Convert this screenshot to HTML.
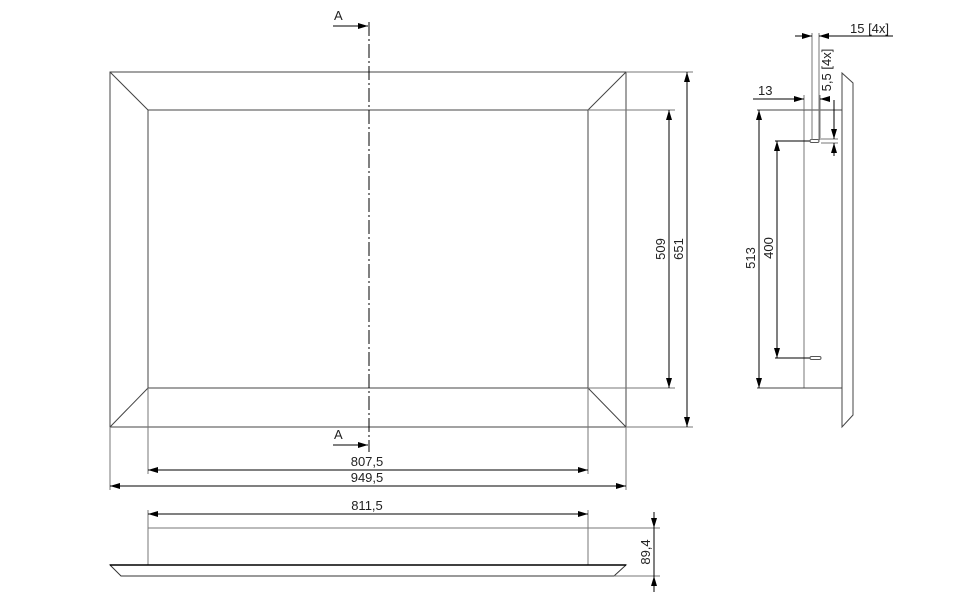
<!DOCTYPE html>
<html><head><style>body{margin:0;background:#fff}svg{display:block}</style></head><body>
<svg width="960" height="600" viewBox="0 0 960 600" xmlns="http://www.w3.org/2000/svg" font-family="Liberation Sans, sans-serif" font-size="11" fill="none" stroke-linecap="butt">
<defs>
<marker id="a" viewBox="0 0 10 6" refX="10" refY="3" markerWidth="10" markerHeight="6" markerUnits="userSpaceOnUse" orient="auto-start-reverse"><path d="M0,0L10,3L0,6z" fill="#000"/></marker>
</defs>
<g stroke="#444" stroke-width="1">
<rect x="110" y="72" width="516" height="355"/>
<rect x="148" y="110" width="440" height="278"/>
<path d="M110,72L148,110M626,72L588,110M110,427L148,388M626,427L588,388"/>
</g>
<path d="M369,22V452" stroke="#000" stroke-width="1" stroke-dasharray="14,3,2,3"/>
<g stroke="#000" stroke-width="1">
<path d="M333,26H368" marker-end="url(#a)"/>
<path d="M333,445H368" marker-end="url(#a)"/>
<path d="M588,110H675M588,388H675M626,72H693M626,427H693" stroke="#777"/>
<path d="M669,110V388" marker-start="url(#a)" marker-end="url(#a)"/>
<path d="M687,72V427" marker-start="url(#a)" marker-end="url(#a)"/>
<path d="M148,388V474M588,388V474M110,427V490M626,427V490" stroke="#777"/>
<path d="M148,470H588" marker-start="url(#a)" marker-end="url(#a)"/>
<path d="M110,486H626" marker-start="url(#a)" marker-end="url(#a)"/>
<path d="M148,510V565M588,510V528" stroke="#777"/>
<path d="M148,514H588" marker-start="url(#a)" marker-end="url(#a)"/>
<path d="M148,528H588V565" stroke="#777"/>
<path d="M110,565H626L614,576H121Z" stroke="#333"/>
<path d="M110,565H626" stroke-width="1.5"/>
<path d="M588,528H660M614,576H660" stroke="#777"/>
<path d="M654,512V528" marker-end="url(#a)"/>
<path d="M654,592V576" marker-end="url(#a)"/>
<path d="M654,528V576"/>
<path d="M842,73L853,83V415L842,427Z" stroke="#444"/>
<path d="M804,110V388" stroke="#777"/>
<path d="M757,110H842M757,388H842" stroke="#444"/>
<path d="M759,110V388" marker-start="url(#a)" marker-end="url(#a)"/>
<path d="M775,141H810M775,358H810"/>
<path d="M777,141V358" marker-start="url(#a)" marker-end="url(#a)"/>
<rect x="810" y="139.5" width="9" height="3" rx="1.5" stroke="#555"/>
<rect x="810" y="356.5" width="11" height="3" rx="1.5" stroke="#555"/>
<path d="M804,95V110M820,95V140M812,33V140M819,33V140" stroke="#777"/>
<path d="M753,99H804" marker-end="url(#a)"/>
<path d="M828,99H820" marker-end="url(#a)"/>
<path d="M795,36H812" marker-end="url(#a)"/>
<path d="M893,36H819" marker-end="url(#a)"/>
<path d="M821,139H838M821,143H838" stroke="#777"/>
<path d="M834,100V139" marker-end="url(#a)"/>
<path d="M834,156V143" marker-end="url(#a)"/>
</g>
<g fill="#222" stroke="none" font-size="13">
<text x="334" y="20">A</text>
<text x="334" y="439">A</text>
<text x="367" y="466" text-anchor="middle">807,5</text>
<text x="367" y="482" text-anchor="middle">949,5</text>
<text x="367" y="510" text-anchor="middle">811,5</text>
<text transform="translate(665,249) rotate(-90)" text-anchor="middle">509</text>
<text transform="translate(683,249) rotate(-90)" text-anchor="middle">651</text>
<text transform="translate(650,552) rotate(-90)" text-anchor="middle">89,4</text>
<text transform="translate(755,258) rotate(-90)" text-anchor="middle">513</text>
<text transform="translate(773,248) rotate(-90)" text-anchor="middle">400</text>
<text x="758" y="95">13</text>
<text x="850" y="33">15 [4x]</text>
<text transform="translate(831,70) rotate(-90)" text-anchor="middle">5,5 [4x]</text>
</g>
</svg>
</body></html>
